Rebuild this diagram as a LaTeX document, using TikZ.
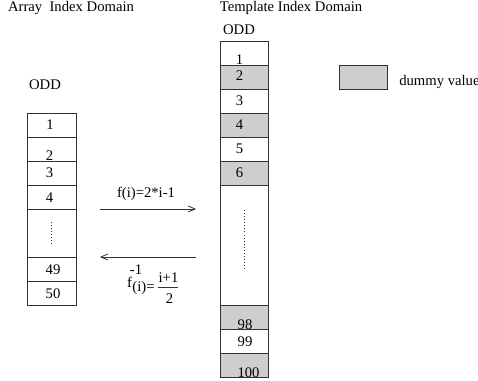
\documentclass[tikz,border=0pt]{standalone}
\usepackage{fontspec}
\setmainfont{Liberation Serif}
\usetikzlibrary{arrows.meta}
\definecolor{dummygray}{RGB}{206,206,206}
\definecolor{edge}{RGB}{50,50,50}
\tikzset{
  lbl/.style={font=\fontsize{11}{13}\selectfont, inner sep=0pt, anchor=base},
  lcell/.style={draw=edge, line width=0.7pt, minimum width=36.75pt, minimum height=18pt, inner sep=0pt},
  rcell/.style={draw=edge, line width=0.7pt, minimum width=36pt, minimum height=18pt, inner sep=0pt},
  dummy/.style={fill=dummygray},
  vdots/.style={draw=edge, line width=0.6pt, dash pattern=on 0.7pt off 1.6pt},
  maparrow/.style={draw=edge, line width=0.6pt, -{Straight Barb[length=5pt,width=4.5pt]}}
}
\begin{document}
\begin{tikzpicture}[x=0.75pt,y=-0.75pt]
\useasboundingbox (0,0) rectangle (478,381);

% headings
\node[lbl] (hleft) at (71,12) {Array~~Index Domain};
\node[lbl] (hright) at (291,12) {Template Index Domain};
\node[lbl] (oddl) at (45,90) {ODD};
\node[lbl] (oddr) at (239,35) {ODD};

% array index column
\node[lcell] (L1) at (51.5,125) {};
\node[lcell] (L2) at (51.5,149) {};
\node[lcell] (L3) at (51.5,173) {};
\node[lcell] (L4) at (51.5,197) {};
\node[lcell, minimum height=36pt] (Ld) at (51.5,233) {};
\node[lcell] (L49) at (51.5,269) {};
\node[lcell] (L50) at (51.5,293) {};
\node[lbl] (tL1) at (50,130) {1};
\node[lbl] (tL2) at (49.5,161) {2};
\node[lbl] (tL3) at (49.5,178) {3};
\node[lbl] (tL4) at (49.5,202) {4};
\node[lbl] (tL49) at (53,274) {49};
\node[lbl] (tL50) at (53,298) {50};
\coordinate (Lda) at (51.5,222);
\coordinate (Ldb) at (51.5,244);
\draw[vdots] (Lda) -- (Ldb);

% template index column
\node[rcell] (R1) at (244,53) {};
\node[rcell, dummy] (R2) at (244,77) {};
\node[rcell] (R3) at (244,101) {};
\node[rcell, dummy] (R4) at (244,125) {};
\node[rcell] (R5) at (244,149) {};
\node[rcell, dummy] (R6) at (244,173) {};
\node[rcell, minimum height=90pt] (Rd) at (244,245) {};
\node[rcell, dummy] (R98) at (244,317) {};
\node[rcell] (R99) at (244,341) {};
\node[rcell, dummy] (R100) at (244,365) {};
\node[lbl] (tR1) at (239.5,65) {1};
\node[lbl] (tR2) at (239.5,81) {2};
\node[lbl] (tR3) at (239.5,106) {3};
\node[lbl] (tR4) at (239.5,130) {4};
\node[lbl] (tR5) at (239.5,154) {5};
\node[lbl] (tR6) at (239.5,178) {6};
\node[lbl] (tR98) at (245,329) {98};
\node[lbl] (tR99) at (245,346) {99};
\node[lbl] (tR100) at (248.5,377) {100};
\coordinate (Rda) at (244,210);
\coordinate (Rdb) at (244,270);
\draw[vdots] (Rda) -- (Rdb);

% legend
\node[rcell, dummy] (key) at (363,77) {};
\node[lbl, anchor=base west] (keytext) at (399,86) {dummy value};

% forward map
\coordinate (fa) at (100,209);
\coordinate (fb) at (196,209);
\draw[maparrow] (fa) -- (fb);
\node[lbl] (fwd) at (146,197) {f(i)=2*i-1};

% inverse map
\coordinate (ia) at (196,257);
\coordinate (ib) at (100,257);
\draw[maparrow] (ia) -- (ib);
\node[lbl] (inf) at (129.5,287) {f};
\node[lbl] (inexp) at (136,274) {-1};
\node[lbl] (inarg) at (143.5,291) {(i)=};
\node[lbl] (innum) at (168.5,282) {i+1};
\coordinate (bara) at (158,287);
\coordinate (barb) at (178,287);
\draw[edge, line width=0.6pt] (bara) -- (barb);
\node[lbl] (inden) at (169.5,303) {2};
\end{tikzpicture}
\end{document}
